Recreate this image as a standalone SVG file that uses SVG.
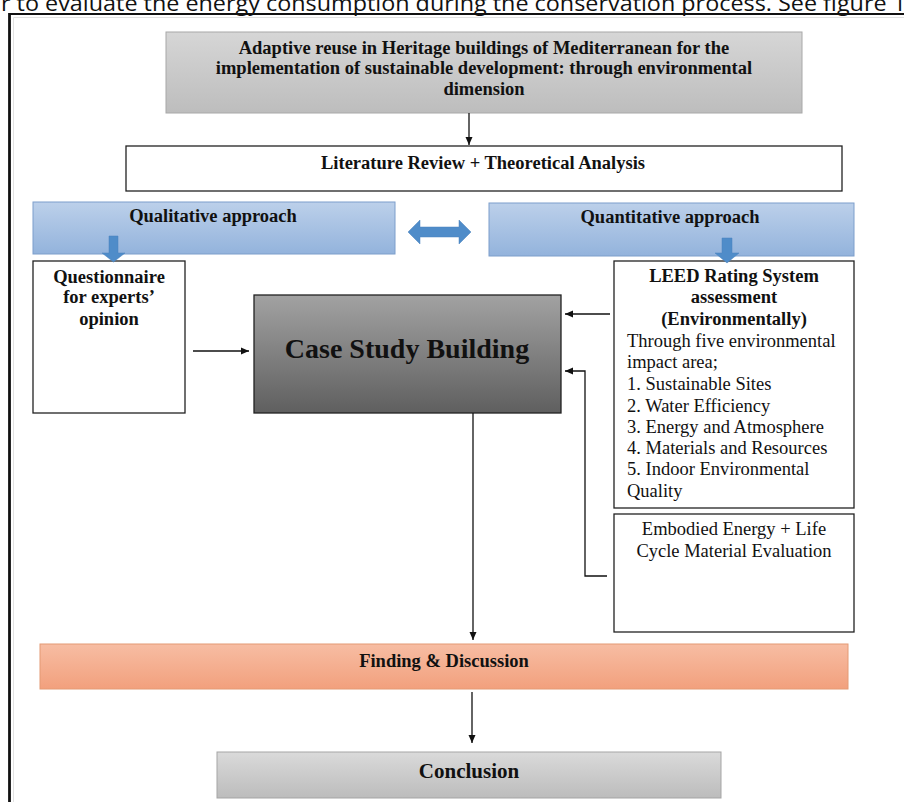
<svg xmlns="http://www.w3.org/2000/svg" width="904" height="802" viewBox="0 0 904 802">
<style>
.t{font-family:"Liberation Serif","Times New Roman",serif;font-size:18.5px;fill:#111}
.b{font-weight:bold}
.c{text-anchor:middle}
.box{stroke:#222;stroke-width:1.3}
.conn{stroke:#111;stroke-width:1.3;fill:none}
.blue{fill:url(#gBlue);stroke:#7d9ecb;stroke-width:1}
.barrow{fill:#4f8cc9;stroke:#4a82bd;stroke-width:0.5}
</style>
<defs>
<linearGradient id="gTitle" x1="0" y1="0" x2="0" y2="1"><stop offset="0" stop-color="#d6d6d6"/><stop offset="1" stop-color="#bdbdbd"/></linearGradient>
<linearGradient id="gBlue" x1="0" y1="0" x2="0" y2="1"><stop offset="0" stop-color="#bcd0ea"/><stop offset="1" stop-color="#93b3dc"/></linearGradient>
<linearGradient id="gCase" x1="0" y1="0" x2="0" y2="1"><stop offset="0" stop-color="#a2a2a2"/><stop offset="1" stop-color="#5f5f5f"/></linearGradient>
<linearGradient id="gOrange" x1="0" y1="0" x2="0" y2="1"><stop offset="0" stop-color="#f7bda3"/><stop offset="1" stop-color="#f2a07d"/></linearGradient>
<linearGradient id="gConc" x1="0" y1="0" x2="0" y2="1"><stop offset="0" stop-color="#dadada"/><stop offset="1" stop-color="#bcbcbc"/></linearGradient>
<marker id="ah" markerWidth="9" markerHeight="8" refX="8" refY="4" orient="auto" markerUnits="userSpaceOnUse"><path d="M0,0.5 L8,4 L0,7.5 z" fill="#111"/></marker>
</defs>
<rect x="0" y="0" width="904" height="802" fill="#fff"/>
<text x="1" y="11" font-family="'Open Sans','Liberation Sans',sans-serif" font-size="21" fill="#111" textLength="905" lengthAdjust="spacingAndGlyphs">r to evaluate the energy consumption during the conservation process. See figure 1</text>
<g id="frame">
<path d="M13.5,802 V17.5 H904" fill="none" stroke="#e2e2e2" stroke-width="1"/>
<path d="M9.5,802 V14 H904" fill="none" stroke="#111" stroke-width="2"/>
<line x1="9.5" y1="13" x2="9.5" y2="802" stroke="#111" stroke-width="2.6"/>
</g>
<g id="title">
<rect x="166" y="32" width="636" height="81" fill="url(#gTitle)" stroke="#a8a8a8" stroke-width="1"/>
<text class="t b c" x="484" y="54">Adaptive reuse in Heritage buildings of Mediterranean for the</text>
<text class="t b c" x="484" y="74">implementation of sustainable development: through environmental</text>
<text class="t b c" x="484" y="95">dimension</text>
</g>
<g id="literature">
<rect class="box" x="126" y="146" width="716" height="45" fill="#fff"/>
<text class="t b c" x="483" y="169">Literature Review + Theoretical Analysis</text>
</g>
<g id="qualitative">
<rect class="blue" x="33" y="202" width="362" height="52"/>
<text class="t b c" x="213" y="222">Qualitative approach</text>
</g>
<g id="quantitative">
<rect class="blue" x="489" y="203" width="365" height="53"/>
<text class="t b c" x="670" y="223">Quantitative approach</text>
</g>
<g id="questionnaire">
<rect class="box" x="33" y="261" width="152" height="152" fill="#fff"/>
<text class="t b c" x="109" y="283">Questionnaire</text>
<text class="t b c" x="109" y="303">for experts’</text>
<text class="t b c" x="109" y="325">opinion</text>
</g>
<g id="case">
<rect class="box" x="254" y="295" width="307" height="118" fill="url(#gCase)"/>
<text class="t b c" x="407" y="358" style="font-size:28px">Case Study Building</text>
</g>
<g id="leed">
<rect class="box" x="614" y="261" width="240" height="247" fill="#fff"/>
<text class="t b c" x="734" y="282">LEED Rating System</text>
<text class="t b c" x="734" y="303">assessment</text>
<text class="t b c" x="734" y="325">(Environmentally)</text>
<text class="t" x="627" y="347">Through five environmental</text>
<text class="t" x="627" y="368">impact area;</text>
<text class="t" x="627" y="390">1. Sustainable Sites</text>
<text class="t" x="627" y="412">2. Water Efficiency</text>
<text class="t" x="627" y="433">3. Energy and Atmosphere</text>
<text class="t" x="627" y="454">4. Materials and Resources</text>
<text class="t" x="627" y="475">5. Indoor Environmental</text>
<text class="t" x="627" y="497">Quality</text>
</g>
<g id="embodied">
<rect class="box" x="614" y="514" width="240" height="118" fill="#fff"/>
<text class="t c" x="734" y="535">Embodied Energy + Life</text>
<text class="t c" x="734" y="557">Cycle Material Evaluation</text>
</g>
<g id="finding">
<rect x="40" y="644" width="808" height="45" fill="url(#gOrange)" stroke="#e49a74" stroke-width="1"/>
<text class="t b c" x="444" y="667">Finding &amp; Discussion</text>
</g>
<g id="conclusion">
<rect x="217" y="752" width="504" height="46" fill="url(#gConc)" stroke="#a5a5a5" stroke-width="1"/>
<text class="t b c" x="469" y="778" style="font-size:21px">Conclusion</text>
</g>
<g id="connectors">
<line class="conn" x1="469" y1="113" x2="469" y2="145" marker-end="url(#ah)"/>
<polygon class="barrow" points="408,232 420,220 420,227 459,227 459,220 471,232 459,244 459,237 420,237 420,244"/>
<polygon class="barrow" points="109,236 118,236 118,253 125,253 113.5,262 102,253 109,253"/>
<polygon class="barrow" points="722,238 732,238 732,253 739,253 727,263 715,253 722,253"/>
<line class="conn" x1="193" y1="351" x2="249" y2="351" marker-end="url(#ah)"/>
<line class="conn" x1="610" y1="314" x2="565" y2="314" marker-end="url(#ah)"/>
<polyline class="conn" points="607,576 585,576 585,371 565,371" marker-end="url(#ah)"/>
<line class="conn" x1="473" y1="413" x2="473" y2="640" marker-end="url(#ah)"/>
<line class="conn" x1="472" y1="692" x2="472" y2="743" marker-end="url(#ah)"/>
</g>
</svg>
